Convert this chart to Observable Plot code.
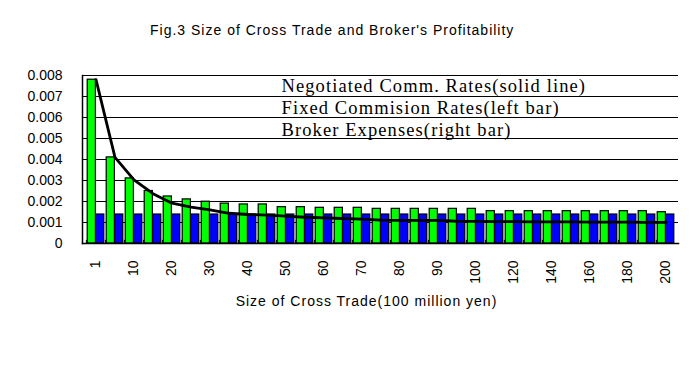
<!DOCTYPE html>
<html>
<head>
<meta charset="utf-8">
<script src="https://cdn.jsdelivr.net/npm/d3@7"></script>
<script src="https://cdn.jsdelivr.net/npm/@observablehq/plot@0.6"></script>
<style>
  html, body { margin: 0; padding: 0; background: #fff; }
  #wrap { width: 700px; height: 378px; overflow: hidden; position: relative; }
  #title { height: 60px; box-sizing: border-box; padding: 22px 0 0 150px; font: 14px "Liberation Sans", sans-serif; letter-spacing: 1px; line-height: 16px; color: #000; white-space: nowrap; }
  svg { display: block; }
</style>
</head>
<body>
<div id="wrap">
  <div id="title"></div>
  <div id="chart"></div>
</div>
<script>
const titleText = "Fig.3 Size of Cross Trade and Broker's Profitability";
const xTitle = "Size of Cross Trade(100 million yen)";
const categories = ["1","5","10","15","20","25","30","35","40","45","50","55","60","65","70","75","80","85","90","95","100","110","120","130","140","150","160","170","180","190","200"];
const fixedRates = [0.0078,0.0041,0.0031,0.0025,0.00224,0.0021,0.00199,0.0019,0.00186,0.00186,0.00173,0.00173,0.0017,0.0017,0.0017,0.00165,0.00165,0.00165,0.00165,0.00165,0.00165,0.00154,0.00154,0.00154,0.00154,0.00154,0.00154,0.00154,0.00154,0.00154,0.00149];
const brokerExpenses = [0.00138,0.00138,0.00138,0.00138,0.00138,0.00138,0.00138,0.00138,0.00138,0.00138,0.00138,0.00138,0.00138,0.00138,0.00138,0.00138,0.00138,0.00138,0.00138,0.00138,0.00138,0.00138,0.00138,0.00138,0.00138,0.00138,0.00138,0.00138,0.00138,0.00138,0.00138];
const negotiatedRates = [0.0078,0.0041,0.00303,0.00237,0.00192,0.00173,0.0016,0.00144,0.00138,0.00135,0.0013,0.00125,0.00122,0.00119,0.00116,0.00111,0.0011,0.0011,0.0011,0.00106,0.00105,0.00104,0.00104,0.00103,0.00103,0.00103,0.00102,0.00102,0.00102,0.00101,0.00101];
const xTickLabels = ["1","10","20","30","40","50","60","70","80","90","100","120","140","160","180","200"];
const yTickValues = [0,0.001,0.002,0.003,0.004,0.005,0.006,0.007,0.008];
const legendLabels = ["Negotiated Comm. Rates(solid line)","Fixed Commision Rates(left bar)","Broker Expenses(right bar)"];

document.getElementById("title").textContent = titleText;

const rows = categories.map((c, i) => ({size: c, fixed: fixedRates[i], expense: brokerExpenses[i], negotiated: negotiatedRates[i]}));

const W = 700, H = 318, ML = 82, MR = 22, MT = 15, MB = 135;
const bw = (W - ML - MR) / categories.length;
const sans = "'Liberation Sans', sans-serif";
const serif = "'Liberation Serif', serif";

const legendDy = [16, 38, 60];
const legendSize = 18.5;

const chart = Plot.plot({
  width: W, height: H,
  marginLeft: ML, marginRight: MR, marginTop: MT, marginBottom: MB,
  style: {fontFamily: sans, fontSize: "14px", color: "#000", background: "#fff", overflow: "visible"},
  x: {type: "band", domain: categories, padding: 0, label: null},
  y: {domain: [0, 0.008], label: null},
  marks: [
    Plot.ruleY(yTickValues, {stroke: "#000", strokeWidth: 1}),
    Plot.barY(rows, {x: "size", y: "fixed", fill: "#00ff00", stroke: "#000", strokeWidth: 1.2, insetLeft: 1.2, insetRight: bw / 2}),
    Plot.barY(rows, {x: "size", y: "expense", fill: "#0000ff", stroke: "#000", strokeWidth: 1.2, insetLeft: bw / 2, insetRight: 1.2}),
    Plot.line(rows, {x: "size", y: "negotiated", stroke: "#000", strokeWidth: 2.8}),
    Plot.ruleX(categories, {x: d => d, y1: 0, y2: 0.00015, dx: -bw / 2, stroke: "#000"}),
    Plot.frame({anchor: "left", stroke: "#000", strokeWidth: 1.5}),
    Plot.frame({anchor: "bottom", stroke: "#000", strokeWidth: 1.5}),
    Plot.axisY({ticks: yTickValues, tickSize: 0, tickPadding: 20, tickFormat: d => d === 0 ? "0" : d.toFixed(3), fontSize: 14, label: null}),
    Plot.axisX({ticks: xTickLabels, tickSize: 0, tickPadding: 17, tickRotate: -90, fontSize: 14, label: null}),
    Plot.text([xTitle], {frameAnchor: "bottom", dy: 62, dx: -14, fontSize: 14, fill: "#000"}),
    Plot.text([legendLabels[0]], {frameAnchor: "top-left", textAnchor: "start", lineAnchor: "bottom", dx: 199, dy: legendDy[0], fontSize: legendSize, fontFamily: serif, fill: "#000"}),
    Plot.text([legendLabels[1]], {frameAnchor: "top-left", textAnchor: "start", lineAnchor: "bottom", dx: 199, dy: legendDy[1], fontSize: legendSize, fontFamily: serif, fill: "#000"}),
    Plot.text([legendLabels[2]], {frameAnchor: "top-left", textAnchor: "start", lineAnchor: "bottom", dx: 199, dy: legendDy[2], fontSize: legendSize, fontFamily: serif, fill: "#000"})
  ]
});
const svgSel = d3.select(chart);
svgSel.selectAll("text").filter(function () { return this.textContent === xTitle; }).style("letter-spacing", "1px");
svgSel.selectAll("text").filter(function () { return legendLabels.includes(this.textContent); }).style("letter-spacing", "1.1px");
document.getElementById("chart").appendChild(chart);
</script>
</body>
</html>
